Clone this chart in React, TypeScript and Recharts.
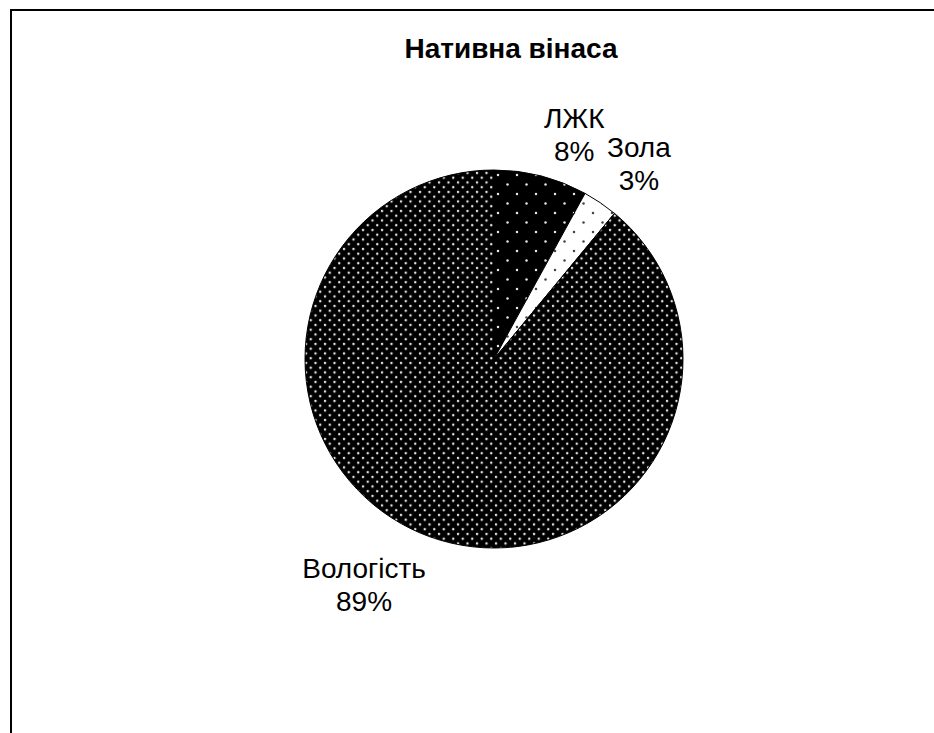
import React from 'react'
import { PieChart, Pie, Cell } from 'recharts'

// chart data
const sliceNames = ['ЛЖК', 'Зола', 'Вологість']
const sliceValues = [8, 3, 89]
const sliceFills = ['url(#sparseBlack)', 'url(#sparseWhite)', 'url(#denseBlack)']
const chartTitle = 'Нативна вінаса'

const data = sliceNames.map((name, i) => ({ name, value: sliceValues[i] }))
const total = sliceValues.reduce((a, b) => a + b, 0)

const FONT = '"Liberation Sans", Arial, sans-serif'
const LABEL_SIZE = 28
const LINE_H = 33

let ctx: CanvasRenderingContext2D | null = null
function measure(text: string) {
  if (!ctx) {
    ctx = document.createElement('canvas').getContext('2d')
  }
  if (!ctx) return text.length * LABEL_SIZE * 0.6
  ctx.font = `${LABEL_SIZE}px ${FONT}`
  return ctx.measureText(text).width
}

const RAD = Math.PI / 180

function renderLabel(props: any) {
  const { cx, cy, midAngle, outerRadius, name, value } = props
  const dx = Math.cos(-midAngle * RAD)
  const dy = Math.sin(-midAngle * RAD)
  const r = outerRadius + 12
  const px = cx + r * dx
  const py = cy + r * dy
  const pct = `${Math.round((value / total) * 100)}%`
  const w = Math.max(measure(name), measure(pct))
  const h = LINE_H * 2
  // label box touches the ray with its nearest corner
  const bx = px + Math.sign(dx) * w / 2
  const by = py + Math.sign(dy) * h / 2 + 4
  return (
    <text x={bx} y={by} textAnchor="middle" fontFamily={FONT} fontSize={LABEL_SIZE} fill="#000">
      <tspan x={bx} y={by - LINE_H / 2} dominantBaseline="central">{name}</tspan>
      <tspan x={bx} y={by + LINE_H / 2} dominantBaseline="central">{pct}</tspan>
    </text>
  )
}

export default function App() {
  return (
    <div style={{ position: 'absolute', left: 0, top: 0, width: 934, height: 733, background: '#fff', overflow: 'hidden' }}>
      <svg width={0} height={0} style={{ position: 'absolute' }}>
        <defs>
          <pattern id="denseBlack" patternUnits="userSpaceOnUse" width={9.5} height={9.5}>
            <rect width={9.5} height={9.5} fill="#000" />
            <circle cx={2} cy={2} r={1.25} fill="#e6e6e6" />
            <circle cx={6.75} cy={6.75} r={1.25} fill="#e6e6e6" />
          </pattern>
          <pattern id="sparseBlack" patternUnits="userSpaceOnUse" width={19} height={19}>
            <rect width={19} height={19} fill="#000" />
            <circle cx={4} cy={4} r={1.25} fill="#e6e6e6" />
            <circle cx={13.5} cy={13.5} r={1.25} fill="#e6e6e6" />
          </pattern>
          <pattern id="sparseWhite" patternUnits="userSpaceOnUse" width={19} height={19}>
            <rect width={19} height={19} fill="#fff" />
            <circle cx={4} cy={4} r={1.25} fill="#444" />
            <circle cx={13.5} cy={13.5} r={1.25} fill="#444" />
          </pattern>
        </defs>
      </svg>

      {/* frame, runs off the right and bottom edge */}
      <div style={{ position: 'absolute', left: 10, top: 9, width: 960, height: 760, border: '2px solid #000', boxSizing: 'border-box' }} />

      <div style={{ position: 'absolute', left: 311, top: 30, width: 400, textAlign: 'center', fontFamily: FONT, fontWeight: 'bold', fontSize: 28, lineHeight: '38px', color: '#000' }}>
        {chartTitle}
      </div>

      <div style={{ position: 'absolute', left: 0, top: 0 }}>
        <PieChart width={934} height={733} margin={{ top: 0, right: 0, bottom: 0, left: 0 }}>
          <Pie
            data={data}
            dataKey="value"
            nameKey="name"
            cx={494}
            cy={359}
            outerRadius={189}
            startAngle={90}
            endAngle={-270}
            stroke="#000"
            strokeWidth={1}
            label={renderLabel}
            labelLine={false}
            isAnimationActive={false}
          >
            {data.map((d, i) => (
              <Cell key={d.name} fill={sliceFills[i]} />
            ))}
          </Pie>
        </PieChart>
      </div>
    </div>
  )
}
